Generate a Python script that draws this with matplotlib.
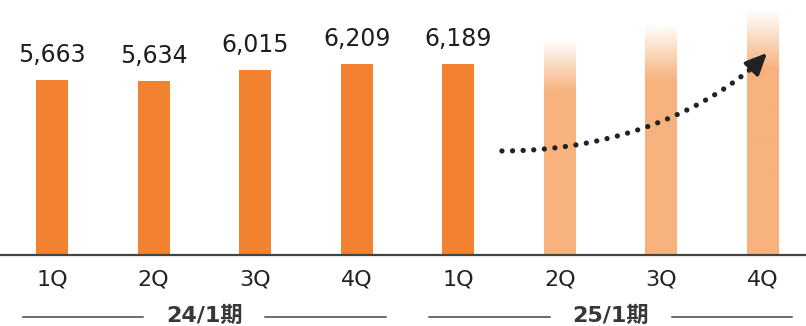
import numpy as np
import matplotlib as mpl
import matplotlib.pyplot as plt
import matplotlib.transforms as mtransforms

mpl.rcParams['font.family'] = ['DejaVu Sans', 'Noto Sans CJK JP']

# データ
quarters = ['1Q', '2Q', '3Q', '4Q', '1Q', '2Q', '3Q', '4Q']
actual = [5663, 5634, 6015, 6209, 6189]
forecast = [7000, 7490, 7980]          # 見込み（グラデーション棒の高さ）
periods = ['24/1期', '25/1期']

# 点線の矢印（ベジェ制御点、x=棒の位置, y=値）
curve_ctrl = [(4.43, 3370), (5.40, 3370), (6.28, 4380), (6.88, 6040)]
arrow_tail = (6.92, 6150)
arrow_tip = (7.04, 6560)

c_solid = '#F38230'
c_light = '#F7B27E'
bar_w = 0.315

fig = plt.figure(figsize=(8.06, 3.26), dpi=100)
ax = fig.add_axes([0, 0.2193, 1, 0.7807])
ax.set_xlim(-0.512, 7.424)
ax.set_ylim(0, 8282)

x = np.arange(len(quarters))

# 実績の棒
ax.bar(x[:len(actual)], actual, width=bar_w, color=c_solid, zorder=2)
for xi, v in zip(x, actual):
    ax.annotate(f'{v:,}', (xi, v), xytext=(0, 18), textcoords='offset points',
                ha='center', va='center', fontsize=17, color='#1e1e1e')

# 見込みの棒（上部がフェード）
rgb = mpl.colors.to_rgb(c_light)
for xi, h in zip(x[len(actual):], forecast):
    frac = np.linspace(0, 1, 200)          # 上端=0 → 下端=1
    img = np.zeros((len(frac), 1, 4))
    img[:, 0, :3] = rgb
    img[:, 0, 3] = np.clip(frac / 0.24, 0, 1)
    ax.imshow(img, extent=[xi - bar_w / 2, xi + bar_w / 2, 0, h],
              aspect='auto', origin='upper', zorder=2, interpolation='bilinear')

# 点線の曲線
t = np.linspace(0, 1, 300)[:, None]
P = np.array(curve_ctrl, dtype=float)
pts = ((1 - t) ** 3 * P[0] + 3 * (1 - t) ** 2 * t * P[1]
       + 3 * (1 - t) * t ** 2 * P[2] + t ** 3 * P[3])
ax.plot(pts[:, 0], pts[:, 1], color='#222222', lw=3.8,
        dashes=(0.01, 2.0), dash_capstyle='round', zorder=4)
ax.annotate('', xy=arrow_tip, xytext=arrow_tail,
            arrowprops=dict(arrowstyle='-|>,head_length=1.3,head_width=0.6',
                            color='#222222', lw=2.6, joinstyle='round',
                            shrinkA=0, shrinkB=0),
            zorder=5)

# 軸
for s in ['top', 'right', 'left']:
    ax.spines[s].set_visible(False)
ax.spines['bottom'].set_color('#444444')
ax.spines['bottom'].set_linewidth(1.6)
ax.set_yticks([])
ax.set_xticks(x)
ax.set_xticklabels(quarters, fontsize=16, color='#222222')
ax.tick_params(axis='x', length=0, pad=11)

# 期のラベル
trans = mtransforms.blended_transform_factory(ax.transData, ax.transAxes)
for k, label in enumerate(periods):
    c = 1.5 + 4 * k
    ax.text(c, -0.242, label, transform=trans, ha='center', va='center',
            fontsize=16, fontweight='bold', color='#383838')
    for a, b in [(c - 1.79, c - 0.6), (c + 0.6, c + 1.79)]:
        ax.plot([a, b], [-0.246, -0.246], transform=trans, color='#444444',
                lw=1.1, clip_on=False)

fig.savefig('out.png', dpi=100)
